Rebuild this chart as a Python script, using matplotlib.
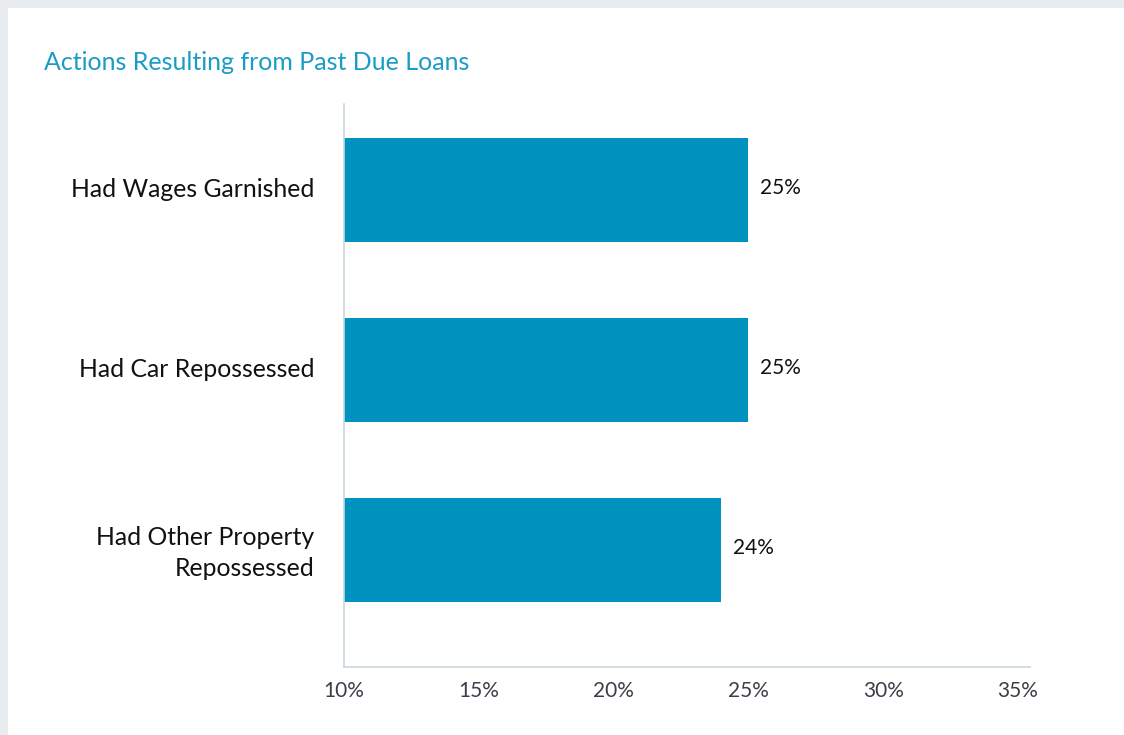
import numpy as np
import matplotlib
matplotlib.use('Agg')
import matplotlib.pyplot as plt
from matplotlib.patches import Rectangle

# datos
acciones = ['Had Wages Garnished', 'Had Car Repossessed', 'Had Other Property\nRepossessed']
porcentajes = [25, 25, 24]
etiquetas_x = ['10%', '15%', '20%', '25%', '30%', '35%']
valores_x = [10, 15, 20, 25, 30, 35]

azul = '#0093c0'
titulo_color = '#1b9cc6'
gris_fondo = '#e8ecee'
eje_color = '#c9d7df'

fig = plt.figure(figsize=(11.24, 7.35), dpi=100)
fig.patch.set_facecolor(gris_fondo)
# panel blanco
fig.patches.append(Rectangle((8/1124, 0), 1, 1 - 8/735, transform=fig.transFigure,
                             facecolor='white', edgecolor='none', zorder=-5))

ax = fig.add_axes([344/1124, 1 - 667/735, (1030 - 344)/1124, (667 - 104)/735])
ax.set_facecolor('none')
ax.set_zorder(2)

y = np.arange(len(acciones))
ax.barh(y, porcentajes, height=0.578, color=azul, left=0)
ax.set_xlim(10, 35.45)
ax.set_ylim(2.65, -0.478)

for yi, p in zip(y, porcentajes):
    ax.text(p + 0.45, yi - 0.01, f'{p}%', va='center', ha='left', fontsize=15,
            family='Lato', color='#111111')

ax.set_yticks(y - 0.015)
ax.set_yticklabels(acciones, fontsize=17.8, family='Lato', color='#111111',
                   linespacing=1.4, ha='right')
ax.set_xticks(valores_x)
ax.set_xticklabels(etiquetas_x, fontsize=15, family='Lato', color='#3a3f48')
ax.tick_params(axis='both', length=0)
ax.tick_params(axis='y', pad=21.5)
ax.tick_params(axis='x', pad=10)

for s in ['top', 'right']:
    ax.spines[s].set_visible(False)
ax.spines['left'].set_color(eje_color)
ax.spines['bottom'].set_color(eje_color)
ax.spines['left'].set_linewidth(1.2)
ax.spines['bottom'].set_linewidth(1.2)

fig.text(44/1124, 1 - 62/735, 'Actions Resulting from Past Due Loans', fontsize=18,
         family='Lato', color=titulo_color, va='center', ha='left')

plt.savefig('out.png', dpi=100, facecolor=fig.get_facecolor())
